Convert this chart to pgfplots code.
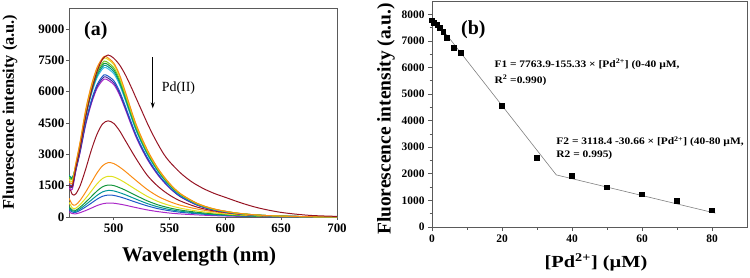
\documentclass[border=0pt]{standalone}
\usepackage{pgfplots}
\pgfplotsset{compat=1.18}
\usepackage{fontspec}
\setmainfont{Liberation Serif}
\usetikzlibrary{arrows.meta}
\definecolor{cdr}{RGB}{150,20,35}
\definecolor{cor}{RGB}{250,140,20}
\definecolor{cye}{RGB}{225,225,30}
\definecolor{cli}{RGB}{120,200,40}
\definecolor{cgr}{RGB}{20,150,60}
\definecolor{cte}{RGB}{0,150,150}
\definecolor{ccy}{RGB}{60,190,230}
\definecolor{cbl}{RGB}{30,90,200}
\definecolor{cna}{RGB}{60,40,160}
\definecolor{cpu}{RGB}{170,40,200}
\definecolor{axg}{RGB}{90,90,90}
\newcommand{\bftick}{\textbf{\pgfmathprintnumber[assume math mode=true,1000 sep={}]{\tick}}}
\begin{document}
\begin{tikzpicture}[x=1bp,y=1bp]
% ---------------- panel (a) ----------------
\begin{axis}[at={(69bp,60bp)}, anchor=south west, scale only axis,
  width=268bp, height=209bp,
  xmin=460, xmax=700, ymin=0, ymax=10000,
  xtick={500,550,...,700}, ytick={0,1500,...,9000},
  scaled y ticks=false,
  axis line style={draw=axg, line width=1pt},
  tick style={draw=axg, line width=0.8pt},
  tick align=outside, major tick length=3bp,
  xtick pos=bottom, ytick pos=left,
  xticklabel={\bftick}, yticklabel={\bftick},
  ticklabel style={font=\fontsize{13}{13}\selectfont},
  yticklabel style={inner sep=1.5pt},
  every axis plot/.append style={line width=1pt, smooth, no markers}]
% lower group (peak ~495)
\addplot[cpu] coordinates {(460,250)(463,160)(466,150)(470,210)(475,310)(480,425)(485,545)(490,630)(495,670)(500,660)(505,620)(510,570)(520,450)(530,340)(540,255)(550,190)(560,145)(575,100)(590,65)(610,35)(630,20)(650,10)(675,3)(700,0)};
\addplot[cbl] coordinates {(460,350)(463,230)(466,220)(470,320)(475,485)(480,665)(485,850)(490,990)(495,1050)(500,1035)(505,970)(510,890)(520,705)(530,535)(540,395)(550,300)(560,225)(575,155)(590,100)(610,55)(630,30)(650,15)(675,5)(700,0)};
\addplot[cte] coordinates {(460,420)(463,280)(466,270)(470,390)(475,590)(480,810)(485,1030)(490,1200)(495,1270)(500,1250)(505,1170)(510,1075)(520,855)(530,645)(540,480)(550,360)(560,275)(575,185)(590,120)(610,70)(630,35)(650,15)(675,5)(700,0)};
\addplot[cgr] coordinates {(460,500)(463,330)(466,320)(470,470)(475,710)(480,975)(485,1240)(490,1445)(495,1530)(500,1505)(505,1410)(510,1295)(520,1030)(530,775)(540,575)(550,435)(560,330)(575,225)(590,150)(610,80)(630,40)(650,20)(675,5)(700,0)};
\addplot[cye] coordinates {(460,700)(463,430)(466,420)(470,600)(475,900)(480,1240)(485,1580)(490,1840)(495,1950)(500,1920)(505,1800)(510,1650)(520,1310)(530,990)(540,735)(550,555)(560,420)(575,285)(590,190)(610,105)(630,55)(650,25)(675,8)(700,0)};
\addplot[cor] coordinates {(460,900)(463,600)(466,580)(470,800)(475,1200)(480,1650)(485,2100)(490,2450)(495,2600)(500,2560)(505,2400)(510,2200)(520,1750)(530,1320)(540,980)(550,740)(560,560)(575,380)(590,250)(610,140)(630,70)(650,35)(675,10)(700,0)};
\addplot[cdr] coordinates {(460,1500)(463,1080)(466,1100)(470,1500)(475,2300)(480,3200)(485,3950)(490,4450)(495,4600)(500,4480)(505,4150)(510,3700)(520,2800)(530,2000)(540,1450)(550,1050)(560,760)(575,470)(590,290)(610,150)(630,75)(650,35)(675,10)(700,0)};
% upper group (peak ~493)
\addplot[cpu] coordinates {(460,1400)(463,1330)(466,2180)(470,3100)(475,4420)(480,5410)(485,6140)(490,6530)(493,6600)(500,6340)(505,5870)(510,5210)(520,3830)(530,2770)(540,1980)(550,1390)(560,960)(575,560)(590,330)(610,165)(630,80)(650,40)(675,13)(700,0)};
\addplot[cna] coordinates {(460,1500)(463,1430)(466,2210)(470,3150)(475,4490)(480,5490)(485,6230)(490,6630)(493,6700)(500,6430)(505,5960)(510,5290)(520,3890)(530,2810)(540,2010)(550,1410)(560,970)(575,570)(590,335)(610,170)(630,80)(650,40)(675,13)(700,0)};
\addplot[cbl] coordinates {(460,1600)(463,1520)(466,2240)(470,3200)(475,4560)(480,5580)(485,6320)(490,6730)(493,6800)(500,6530)(505,6050)(510,5370)(520,3940)(530,2860)(540,2040)(550,1430)(560,990)(575,580)(590,340)(610,170)(630,80)(650,40)(675,14)(700,0)};
\addplot[ccy] coordinates {(460,1950)(463,1850)(466,2360)(470,3360)(475,4790)(480,5860)(485,6650)(490,7080)(493,7150)(500,6860)(505,6360)(510,5650)(520,4150)(530,3000)(540,2150)(550,1500)(560,1040)(575,610)(590,360)(610,180)(630,86)(650,43)(675,14)(700,0)};
\addplot[cte] coordinates {(460,2000)(463,1900)(466,2390)(470,3410)(475,4860)(480,5950)(485,6740)(490,7180)(493,7250)(500,6960)(505,6450)(510,5730)(520,4200)(530,3050)(540,2180)(550,1520)(560,1050)(575,615)(590,360)(610,180)(630,87)(650,43)(675,15)(700,0)};
\addplot[cgr] coordinates {(460,1950)(463,1850)(466,2430)(470,3450)(475,4920)(480,6030)(485,6840)(490,7280)(493,7350)(500,7060)(505,6540)(510,5810)(520,4260)(530,3090)(540,2200)(550,1540)(560,1070)(575,625)(590,370)(610,185)(630,90)(650,45)(675,15)(700,0)};
\addplot[cli] coordinates {(460,1900)(463,1800)(466,2460)(470,3500)(475,4990)(480,6110)(485,6930)(490,7380)(493,7450)(500,7150)(505,6630)(510,5890)(520,4320)(530,3130)(540,2240)(550,1560)(560,1080)(575,630)(590,370)(610,185)(630,90)(650,45)(675,15)(700,0)};
\addplot[cye] coordinates {(460,1800)(463,1710)(466,2510)(470,3570)(475,5090)(480,6230)(485,7070)(490,7520)(493,7600)(500,7300)(505,6760)(510,6000)(520,4410)(530,3190)(540,2280)(550,1600)(560,1100)(575,645)(590,380)(610,190)(630,90)(650,45)(675,15)(700,0)};
\addplot[cor] coordinates {(460,1700)(463,1620)(466,2530)(470,3610)(475,5150)(480,6300)(485,7140)(490,7600)(493,7680)(500,7370)(505,6840)(510,6070)(520,4450)(530,3230)(540,2300)(550,1610)(560,1110)(575,650)(590,385)(610,190)(630,90)(650,45)(675,15)(700,0)};
\addplot[cdr] coordinates {(460,1550)(463,1480)(466,2300)(470,3300)(475,4800)(480,6000)(485,6950)(490,7550)(495,7750)(500,7600)(505,7300)(510,6850)(515,6300)(520,5700)(525,5100)(530,4500)(535,3950)(540,3450)(545,3000)(550,2650)(560,2100)(570,1680)(580,1370)(590,1130)(600,940)(615,660)(630,430)(650,220)(675,80)(700,30)};
\draw[-{Stealth[length=6bp,width=4bp]}, line width=0.9pt, black] (axis cs:535,7650) -- (axis cs:535,5200);
\node[font=\fontsize{14}{14}\selectfont] at (axis cs:558,6150) {Pd(II)};
\node[font=\fontsize{20}{20}\selectfont\bfseries] at (axis cs:484,8930) {(a)};
\end{axis}
% ---------------- panel (b) ----------------
\begin{axis}[at={(432bp,50bp)}, anchor=south west, scale only axis,
  width=315bp, height=226bp,
  xmin=0, xmax=90, ymin=0, ymax=8500,
  xtick={0,20,...,80}, minor x tick num=1,
  ytick={0,1000,...,8000}, minor y tick num=1,
  scaled y ticks=false,
  axis line style={draw=axg, line width=1pt},
  tick style={draw=axg, line width=0.7pt},
  tick align=outside, major tick length=4bp, minor tick length=2.5bp,
  xtick pos=bottom, ytick pos=left,
  xticklabel={\bftick}, yticklabel={\bftick},
  ticklabel style={font=\fontsize{11.5}{11.5}\selectfont}]
\addplot[gray, line width=0.6pt, no markers] coordinates {(4,7260)(35.5,1960)(81,520)};
\addplot[only marks, mark=square*, mark size=2.4bp, black] coordinates {
(0,7780)(0.5,7690)(1.5,7600)(2.3,7510)(3.2,7340)(4.2,7130)(6.1,6740)(8.2,6570)
(20,4560)(30,2600)(40,1920)(50,1500)(60,1230)(70,990)(80,630)};
\node[font=\fontsize{20}{20}\selectfont\bfseries] at (axis cs:11.8,7420) {(b)};
\node[anchor=west, xscale=1.15, font=\fontsize{10}{10}\selectfont\bfseries] at (axis cs:16.7,6120) {F1 = 7763.9-155.33 × [Pd\textsuperscript{2+}] (0-40 µM,};
\node[anchor=west, xscale=1.15, font=\fontsize{10}{10}\selectfont\bfseries] at (axis cs:16.7,5520) {R\textsuperscript{2} =0.990)};
\node[anchor=west, xscale=1.15, font=\fontsize{10}{10}\selectfont\bfseries] at (axis cs:34.4,3200) {F2 = 3118.4 -30.66 × [Pd\textsuperscript{2+}] (40-80 µM,};
\node[anchor=west, xscale=1.15, font=\fontsize{10}{10}\selectfont\bfseries] at (axis cs:34.4,2700) {R2 = 0.995)};
\end{axis}
% ---------------- axis titles ----------------
\node[font=\fontsize{21}{21}\selectfont\bfseries] at (199,20) {Wavelength (nm)};
\node[rotate=90, font=\fontsize{16.4}{16.4}\selectfont\bfseries] at (10,165) {Fluorescence intensity (a.u.)};
\node[rotate=90, font=\fontsize{19.5}{19.5}\selectfont\bfseries] at (386,158) {Fluorescence intensity (a.u.)};
\node[xscale=1.2, font=\fontsize{17}{17}\selectfont\bfseries] at (596,15) {[Pd\textsuperscript{2+}] (µM)};
\pgfresetboundingbox
\path[use as bounding box] (0,0) rectangle (750,277);
\end{tikzpicture}
\end{document}
